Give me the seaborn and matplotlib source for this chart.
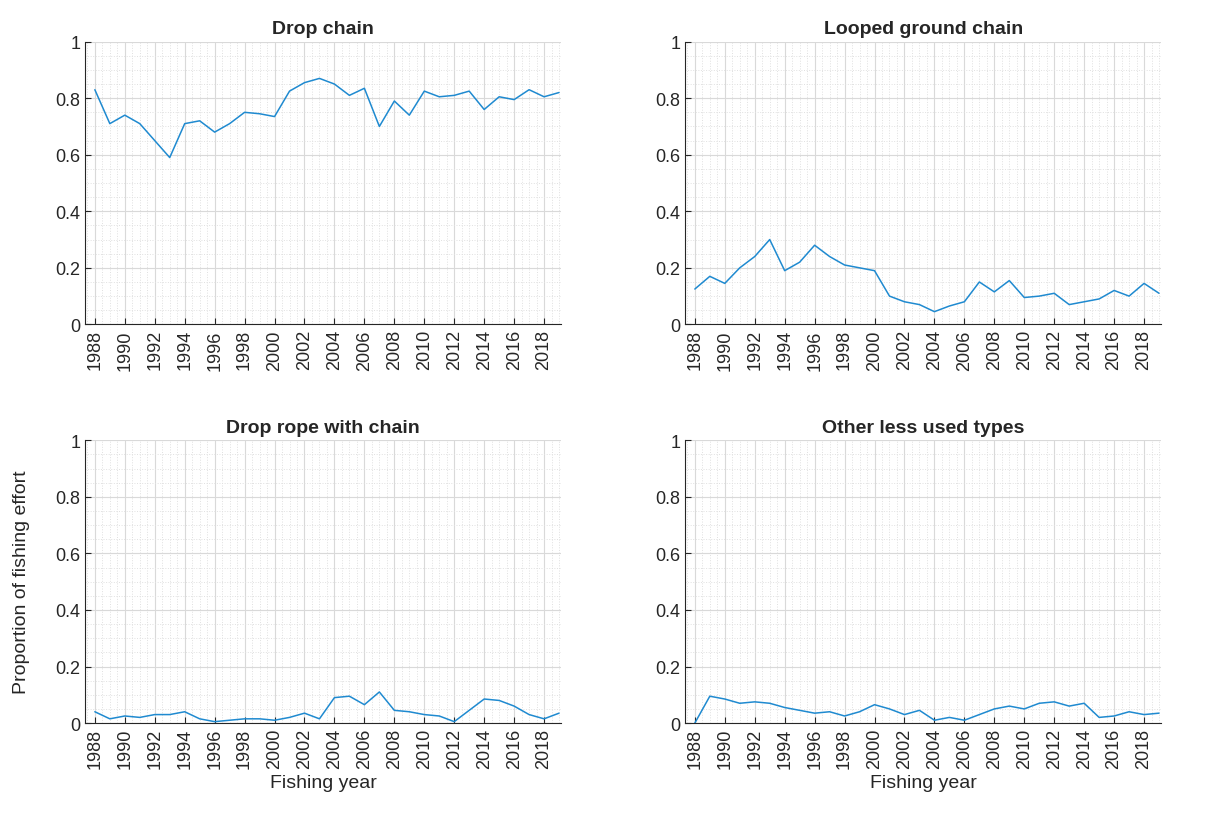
import numpy as np
import pandas as pd
import seaborn as sns
import matplotlib.pyplot as plt
from matplotlib.ticker import MultipleLocator

years = list(range(1988, 2020))

drop_chain = [0.83, 0.71, 0.74, 0.71, 0.65, 0.59, 0.71, 0.72, 0.68, 0.71, 0.75, 0.745,
              0.735, 0.825, 0.855, 0.87, 0.85, 0.81, 0.835, 0.70, 0.79, 0.74, 0.825, 0.805,
              0.81, 0.825, 0.76, 0.805, 0.795, 0.83, 0.805, 0.82]
looped_ground = [0.125, 0.17, 0.145, 0.20, 0.24, 0.30, 0.19, 0.22, 0.28, 0.24, 0.21, 0.20,
                 0.19, 0.10, 0.08, 0.07, 0.045, 0.065, 0.08, 0.15, 0.115, 0.155, 0.095, 0.10,
                 0.11, 0.07, 0.08, 0.09, 0.12, 0.10, 0.145, 0.11]
drop_rope = [0.04, 0.015, 0.025, 0.02, 0.03, 0.03, 0.04, 0.015, 0.005, 0.01, 0.015, 0.015,
             0.01, 0.02, 0.035, 0.015, 0.09, 0.095, 0.065, 0.11, 0.045, 0.04, 0.03, 0.025,
             0.005, 0.045, 0.085, 0.08, 0.06, 0.03, 0.015, 0.035]
other_types = [0.0, 0.095, 0.085, 0.07, 0.075, 0.07, 0.055, 0.045, 0.035, 0.04, 0.025, 0.04,
               0.065, 0.05, 0.03, 0.045, 0.01, 0.02, 0.01, 0.03, 0.05, 0.06, 0.05, 0.07,
               0.075, 0.06, 0.07, 0.02, 0.025, 0.04, 0.03, 0.035]

titles = ['Drop chain', 'Looped ground chain', 'Drop rope with chain', 'Other less used types']
series = [drop_chain, looped_ground, drop_rope, other_types]

sns.set_style('white')
plt.rcParams['font.family'] = ['Liberation Sans', 'DejaVu Sans']

fig, axes = plt.subplots(2, 2, figsize=(12.16, 8.2), dpi=100)
plt.subplots_adjust(left=0.07, right=0.955, top=0.948, bottom=0.117, wspace=0.26, hspace=0.41)

for ax, title, vals in zip(axes.flat, titles, series):
    df = pd.DataFrame({'year': years, 'value': vals})
    sns.lineplot(data=df, x='year', y='value', ax=ax, color='#1f8ad0', linewidth=1.1)
    ax.set_xlim(1987.35, 2019.15)
    ax.set_ylim(0, 1)
    ax.set_xticks(range(1988, 2019, 2))
    ax.set_xticklabels([str(y) for y in range(1988, 2019, 2)], rotation=90)
    ax.set_yticks([0, 0.2, 0.4, 0.6, 0.8, 1])
    ax.set_yticklabels(['0', '0.2', '0.4', '0.6', '0.8', '1'])
    ax.xaxis.set_minor_locator(MultipleLocator(0.5))
    ax.yaxis.set_minor_locator(MultipleLocator(0.05))
    ax.grid(which='major', color='#d9d9d9', linewidth=0.8)
    ax.grid(which='minor', color='#e0e0e0', linestyle=':', linewidth=0.7)
    ax.tick_params(axis='both', which='major', direction='in', length=4, labelsize=13,
                   colors='#262626', bottom=True, left=True)
    ax.tick_params(which='minor', length=0)
    for side in ['top', 'right']:
        ax.spines[side].set_visible(False)
    for side in ['left', 'bottom']:
        ax.spines[side].set_color('#262626')
    ax.set_title(title, fontsize=14, fontweight='bold', pad=6)
    ax.set_xlabel('')
    ax.set_ylabel('')

axes[1, 0].set_xlabel('Fishing year', fontsize=14, color='#262626', labelpad=4)
axes[1, 1].set_xlabel('Fishing year', fontsize=14, color='#262626', labelpad=4)
axes[1, 0].set_ylabel('Proportion of fishing effort', fontsize=14, color='#262626', labelpad=18)

fig.savefig('out.png')
